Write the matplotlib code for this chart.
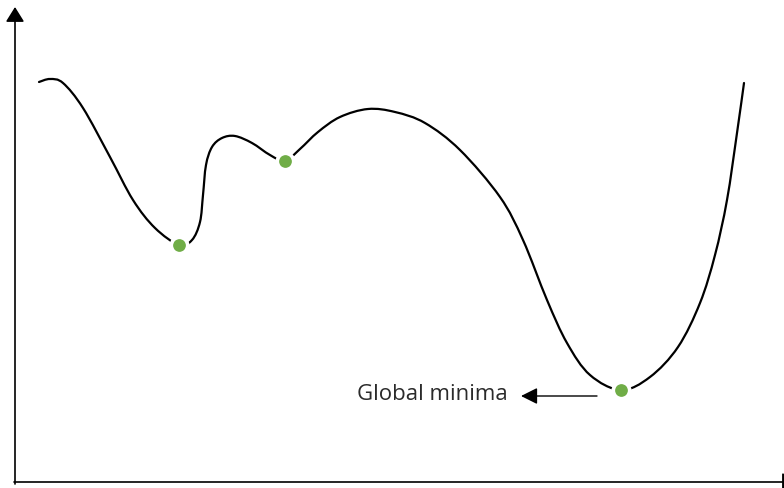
import matplotlib
matplotlib.use("Agg")
import matplotlib.pyplot as plt
from matplotlib.path import Path
from matplotlib.patches import PathPatch

# Curve (x in px, y in px from top)
curve_x = [39, 50, 63, 83, 110, 133, 155, 179,
           192, 200, 203, 206, 212, 222, 235, 252, 270, 285,
           300, 318, 340, 368, 395, 425, 460, 500, 523, 547, 567, 590, 621,
           650, 678, 700, 715, 727, 737, 744]
curve_y = [82, 79, 83, 108, 157, 200, 228, 245,
           240, 222, 195, 165, 147, 138, 136, 143, 155, 161,
           149, 132, 117, 109, 112, 123, 150, 197, 240, 300, 343, 375, 390,
           377, 347, 303, 255, 200, 133, 83]

minima_x = [179, 285, 621]
minima_y = [245, 161, 390]

label_text = "Global minima"

fig = plt.figure(figsize=(7.84, 4.88), dpi=100)
ax = fig.add_axes([0, 0, 1, 1])
ax.set_xlim(0, 784)
ax.set_ylim(488, 0)
ax.axis("off")

# smooth (Catmull-Rom rendered as cubic Bezier) line through the traced points
pts = list(zip(curve_x, curve_y))
verts = [pts[0]]
codes = [Path.MOVETO]
n = len(pts)
for i in range(n - 1):
    p0 = pts[i - 1] if i > 0 else pts[i]
    p1 = pts[i]
    p2 = pts[i + 1]
    p3 = pts[i + 2] if i + 2 < n else pts[i + 1]
    c1 = (p1[0] + (p2[0] - p0[0]) / 6.0, p1[1] + (p2[1] - p0[1]) / 6.0)
    c2 = (p2[0] - (p3[0] - p1[0]) / 6.0, p2[1] - (p3[1] - p1[1]) / 6.0)
    verts += [c1, c2, p2]
    codes += [Path.CURVE4] * 3
ax.add_patch(PathPatch(Path(verts, codes), fill=False, edgecolor="black", lw=1.6,
                       capstyle="round", joinstyle="round", zorder=2))

ax.plot(minima_x, minima_y, "o", ms=11.8, mfc="#70ad47", mec="white", mew=2.6, zorder=3)

# axes with arrows
ax.annotate("", xy=(15, 7), xytext=(15, 484),
            arrowprops=dict(arrowstyle="-|>,head_length=0.45,head_width=0.28", lw=1.2,
                            color="black", mutation_scale=20, shrinkA=0, shrinkB=0))
ax.annotate("", xy=(797, 482), xytext=(14, 482), annotation_clip=False,
            arrowprops=dict(arrowstyle="-|>,head_length=0.45,head_width=0.28", lw=1.2,
                            color="black", mutation_scale=20, shrinkA=0, shrinkB=0))

# global minima annotation
ax.annotate("", xy=(521, 396), xytext=(597, 396),
            arrowprops=dict(arrowstyle="-|>,head_length=0.5,head_width=0.25", lw=1.0,
                            color="black", mutation_scale=20, shrinkA=0, shrinkB=0))
ax.text(357, 395, label_text, fontsize=16, family="Open Sans", color="#2b2b2b",
        ha="left", va="center")

fig.savefig("out.png", dpi=100)
